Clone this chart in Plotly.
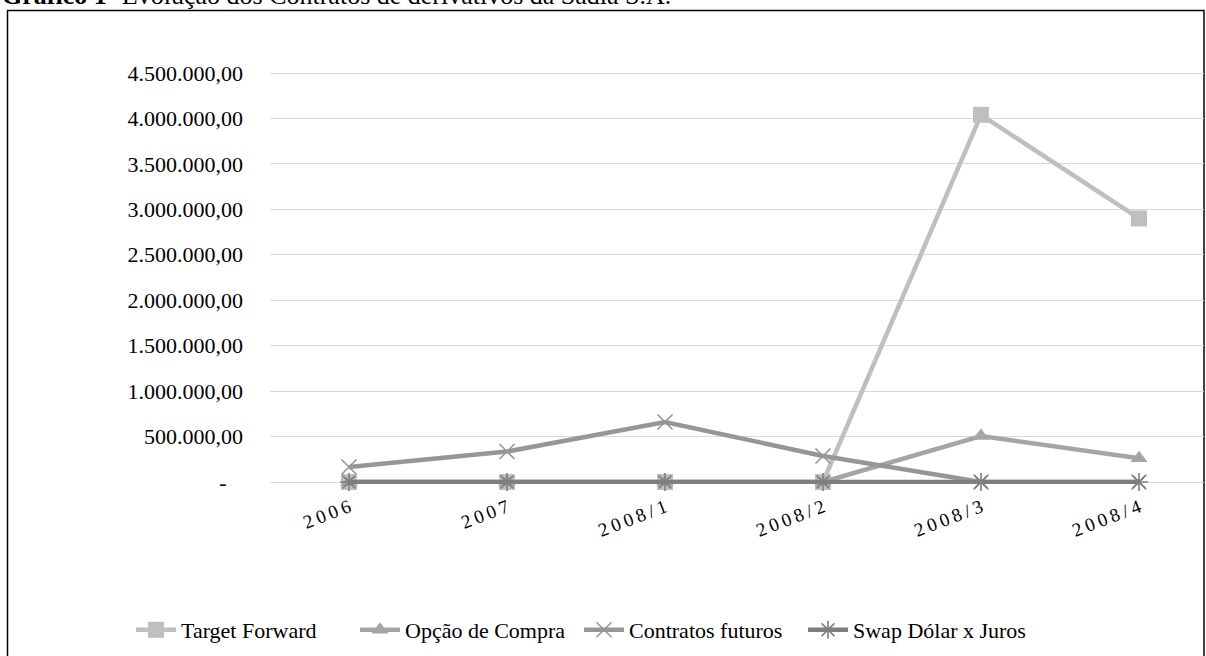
import plotly.graph_objects as go

categories = ["2006", "2007", "2008/1", "2008/2", "2008/3", "2008/4"]
target_forward = [0, 0, 0, 0, 4040000, 2900000]
opcao_compra = [0, 0, 0, 0, 505000, 262000]
contratos_futuros = [165000, 335000, 660000, 286000, 0, 0]
swap_dolar_juros = [0, 0, 0, 0, 0, 0]

y_tickvals = [0, 500000, 1000000, 1500000, 2000000, 2500000, 3000000, 3500000, 4000000, 4500000]
y_ticktext = ["-\u00a0\u00a0\u00a0", "500.000,00", "1.000.000,00", "1.500.000,00", "2.000.000,00",
              "2.500.000,00", "3.000.000,00", "3.500.000,00", "4.000.000,00", "4.500.000,00"]
x_ticktext = ["\u2009".join(list(c)) for c in categories]

FONT = "Liberation Serif, Times New Roman, serif"
W, H = 1206, 656
L, R, T, B = 270, 2, 71, 172
PW, PH = W - L - R, H - T - B

def px_x(p):
    return (p - L) / PW

def px_y(p):
    return (H - B - p) / PH

xs = list(range(len(categories)))

series = [
    ("Target Forward", target_forward, "#bfbfbf", dict(symbol="square", size=16, color="#bfbfbf")),
    ("Opção de Compra", opcao_compra, "#a5a5a5", dict(symbol="triangle-up", size=15, color="#a5a5a5")),
    ("Contratos futuros", contratos_futuros, "#969696",
     dict(symbol="x-thin-open", size=15, color="#969696", line=dict(color="#969696", width=1.6))),
    ("Swap Dólar x Juros", swap_dolar_juros, "#7f7f7f",
     dict(symbol="asterisk-open", size=15, color="#7f7f7f", line=dict(color="#7f7f7f", width=1.6))),
]

fig = go.Figure()
for name, vals, col, mk in series:
    fig.add_trace(go.Scatter(
        x=xs, y=vals, name=name, mode="lines+markers",
        line=dict(color=col, width=4.5), marker=mk, cliponaxis=False,
    ))

fig.update_layout(
    width=W, height=H,
    margin=dict(l=L, r=R, t=T, b=B),
    paper_bgcolor="white", plot_bgcolor="white",
    font=dict(family=FONT, size=22, color="black"),
    showlegend=True,
    legend=dict(orientation="h", x=px_x(131), xanchor="left", y=px_y(630), yanchor="middle",
                font=dict(family=FONT, size=22, color="black"), entrywidth=169, itemwidth=40),
    xaxis=dict(
        range=[-0.5, -0.5 + PW / 158.0], tickvals=xs, ticktext=x_ticktext,
        tickangle=-21, showgrid=False, zeroline=False, showline=False, ticks="",
        tickfont=dict(family=FONT, size=19, color="black"), ticklabelstandoff=8,
    ),
    yaxis=dict(
        range=[-22005, 4522005], tickvals=y_tickvals, ticktext=y_ticktext,
        showgrid=True, gridcolor="#d9d9d9", gridwidth=1, zeroline=False, showline=False,
        ticks="", tickfont=dict(family=FONT, size=22, color="black"), ticklabelstandoff=26,
    ),
    annotations=[dict(
        text="<b>Gráfico 1-</b> Evolução dos Contratos de derivativos da Sadia S.A.",
        xref="paper", yref="paper", x=px_x(0), y=px_y(12), xanchor="left", yanchor="bottom",
        showarrow=False, font=dict(family=FONT, size=26, color="black"),
    )],
    shapes=[dict(
        type="rect", xref="paper", yref="paper",
        x0=px_x(7.5), x1=px_x(1204), y0=px_y(662), y1=px_y(10.5),
        line=dict(color="black", width=1.5), fillcolor="rgba(0,0,0,0)", layer="below",
    )],
)

fig.write_html("out.html")
